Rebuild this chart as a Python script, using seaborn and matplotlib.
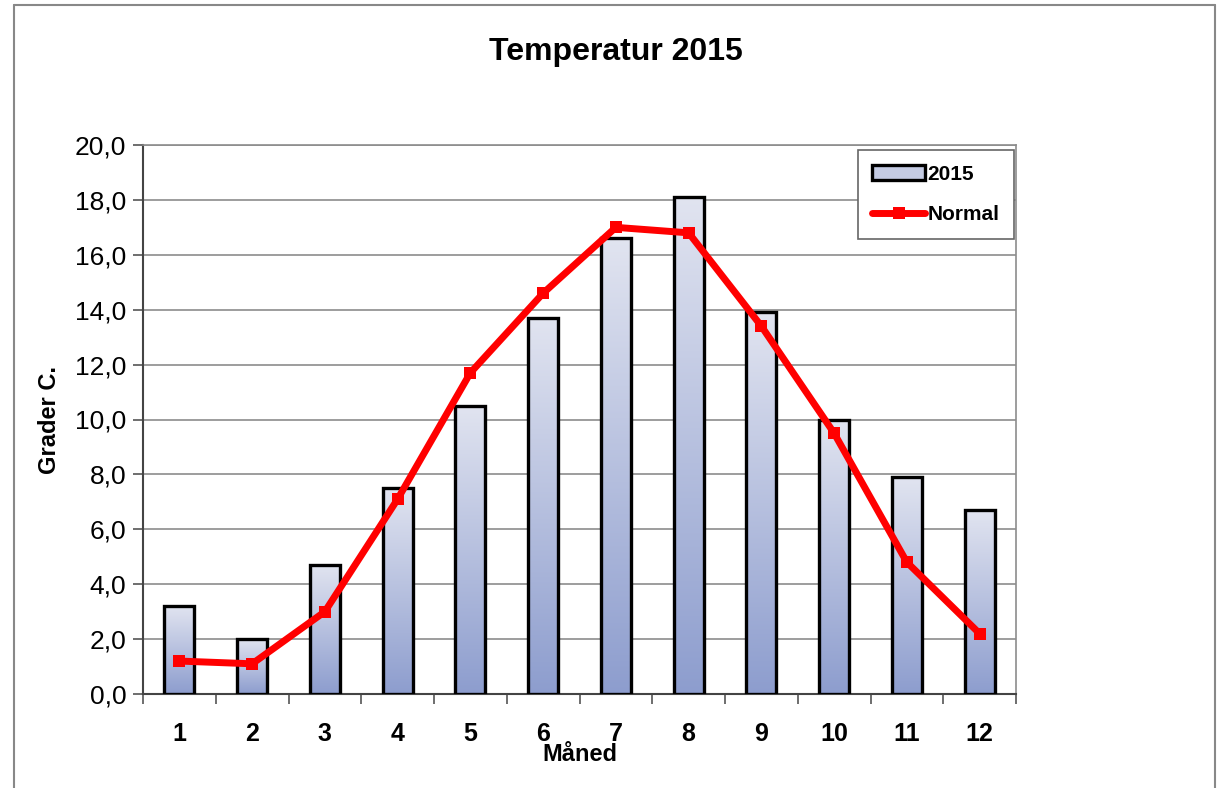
import numpy as np
import pandas as pd
import matplotlib
matplotlib.use("Agg")
import matplotlib.pyplot as plt
import seaborn as sns
from matplotlib.colors import LinearSegmentedColormap
from matplotlib.ticker import FuncFormatter, MultipleLocator
from matplotlib.lines import Line2D
from matplotlib.patches import Patch

# data
months = ["1", "2", "3", "4", "5", "6", "7", "8", "9", "10", "11", "12"]
temp_2015 = [3.2, 2.0, 4.7, 7.5, 10.5, 13.7, 16.6, 18.1, 13.9, 10.0, 7.9, 6.7]
normal = [1.2, 1.1, 3.0, 7.1, 11.7, 14.6, 17.0, 16.8, 13.4, 9.5, 4.8, 2.2]

sns.set_style("white")
plt.rcParams['font.family'] = ['Liberation Sans', 'DejaVu Sans']
plt.rcParams['text.color'] = 'black'
plt.rcParams['axes.labelcolor'] = 'black'
plt.rcParams['xtick.color'] = 'black'
plt.rcParams['ytick.color'] = 'black'

df = pd.DataFrame({"month": months, "temp": temp_2015, "pos": np.arange(12), "normal": normal})

fig = plt.figure(figsize=(12.18, 7.88), dpi=100)
ax = fig.add_axes([143 / 1218, 1 - 694 / 788, (1016 - 143) / 1218, (694 - 145) / 788])

# bars
sns.barplot(data=df, x="month", y="temp", ax=ax, width=0.41, color="#c4cbe3",
            edgecolor="black", linewidth=2.4, zorder=3)

# gradient fill in each bar (light at top, darker blue at bottom)
cmap = LinearSegmentedColormap.from_list("grad", ["#8d9dce", "#e1e4f0"])
grad = np.linspace(0, 1, 256).reshape(-1, 1)
for p in list(ax.patches):
    x0, y0 = p.get_x(), p.get_y()
    w, h = p.get_width(), p.get_height()
    im = ax.imshow(grad, cmap=cmap, origin="lower", aspect="auto",
                   extent=[x0, x0 + w, y0, y0 + h], zorder=3.5)
    im.set_clip_path(p)
    p.set_facecolor("none")
    p.set_zorder(4)

# normal line
sns.lineplot(data=df, x="pos", y="normal", ax=ax, color="#ff0000", linewidth=5,
             marker="s", markersize=8, markeredgewidth=0, zorder=5)

ax.set_xlim(-0.5, 11.5)
ax.set_ylim(0, 20)
ax.yaxis.set_major_locator(MultipleLocator(2))
ax.yaxis.set_major_formatter(FuncFormatter(lambda v, _: f"{v:.1f}".replace(".", ",")))
ax.set_xticks(np.arange(12))
ax.set_xticklabels(months, fontsize=18, fontweight="bold")
ax.set_xticks(np.arange(-0.5, 12, 1), minor=True)
ax.tick_params(axis="x", which="major", length=0, pad=20)
ax.tick_params(axis="x", which="minor", length=7, width=1.2, color="#555555", direction="out", bottom=True)
ax.tick_params(axis="y", length=7, width=1.2, color="#555555", labelcolor="black",
               direction="out", left=True, labelsize=19, pad=5)
ax.grid(axis="y", color="#8c8c8c", linewidth=1.2, zorder=0)
ax.set_axisbelow(True)

for side in ["left", "bottom"]:
    ax.spines[side].set_color("#444444")
    ax.spines[side].set_linewidth(1.5)
for side in ["top", "right"]:
    ax.spines[side].set_color("#8c8c8c")
    ax.spines[side].set_linewidth(1.2)

ax.set_xlabel("Måned", fontsize=17, fontweight="bold", labelpad=-2)
ax.set_ylabel("Grader C.", fontsize=17, fontweight="bold", labelpad=10)
fig.suptitle("Temperatur 2015", x=616 / 1218, y=1 - 52 / 788, va="center",
             fontsize=23, fontweight="bold")

handles = [Patch(facecolor="#c4cbe3", edgecolor="black", linewidth=2.4),
           Line2D([0], [0], color="#ff0000", linewidth=5, marker="s", markersize=8, markeredgewidth=0)]
leg = ax.legend(handles, ["2015", "Normal"], loc="upper right", bbox_to_anchor=(0.998, 0.991),
                borderaxespad=0, fancybox=False, framealpha=1, edgecolor="#666666",
                prop={"size": 15, "weight": "bold"}, handlelength=2.5, handletextpad=0.15,
                labelspacing=1.05, borderpad=0.7)
leg.get_frame().set_linewidth(1.2)

# outer chart border
fig.add_artist(plt.Line2D([14 / 1218, 14 / 1218], [0, 1 - 5 / 788], color="#888888", lw=1.5))
fig.add_artist(plt.Line2D([14 / 1218, 1215 / 1218], [1 - 5 / 788, 1 - 5 / 788], color="#888888", lw=1.5))
fig.add_artist(plt.Line2D([1215 / 1218, 1215 / 1218], [0, 1 - 5 / 788], color="#888888", lw=1.5))

fig.savefig("out.png", dpi=100)
